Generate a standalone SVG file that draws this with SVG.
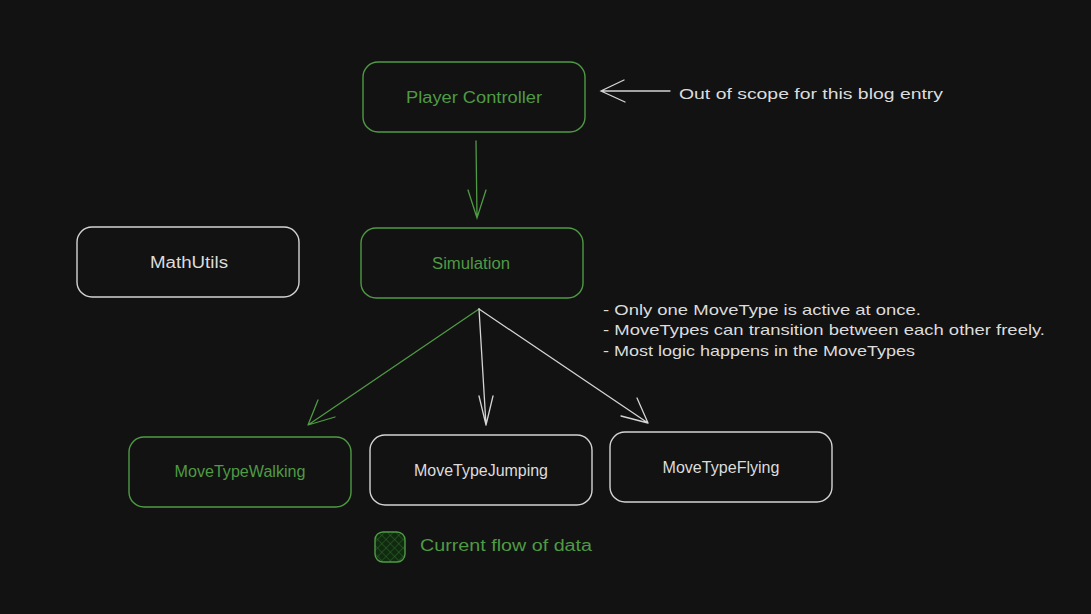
<svg xmlns="http://www.w3.org/2000/svg" width="1091" height="614" viewBox="0 0 1091 614">
<defs>
<style>
.bg{fill:#121212}
.box{fill:none;stroke-width:1.4}
.g{stroke:#4f9a44}
.w{stroke:#d4d4d4}
.t{font-family:"Liberation Sans","DejaVu Sans",sans-serif;font-size:16px;text-anchor:middle;dominant-baseline:central}
.tg{fill:#4f9a44}
.tw{fill:#dcdcdc}
.n{font-family:"Liberation Sans","DejaVu Sans",sans-serif;font-size:15px;fill:#dcdcdc}
.ln{fill:none;stroke-width:1.3;stroke-linecap:round}
</style>
<pattern id="hatch" width="6" height="6" patternUnits="userSpaceOnUse" patternTransform="rotate(45)">
<rect width="6" height="6" fill="#0f2a0f"/>
<line x1="0" y1="0" x2="0" y2="6" stroke="#2f6a2a" stroke-width="1"/>
<line x1="0" y1="0" x2="6" y2="0" stroke="#2f6a2a" stroke-width="1"/>
</pattern>
</defs>
<rect class="bg" width="1091" height="614"/>

<g id="player-controller">
<rect class="box g" x="363" y="62" width="222" height="70" rx="15"/>
<text class="t tg" x="474" y="97" textLength="136" lengthAdjust="spacingAndGlyphs">Player Controller</text>
</g>
<g id="simulation">
<rect class="box g" x="361" y="228" width="222" height="70" rx="15"/>
<text class="t tg" x="471" y="263" textLength="78" lengthAdjust="spacingAndGlyphs">Simulation</text>
</g>
<g id="mathutils">
<rect class="box w" x="77" y="227" width="222" height="70" rx="15"/>
<text class="t tw" x="189" y="262" textLength="78" lengthAdjust="spacingAndGlyphs">MathUtils</text>
</g>
<g id="movetypewalking">
<rect class="box g" x="129" y="437" width="222" height="70" rx="15"/>
<text class="t tg" x="240" y="471" textLength="131" lengthAdjust="spacingAndGlyphs">MoveTypeWalking</text>
</g>
<g id="movetypejumping">
<rect class="box w" x="370" y="435" width="222" height="70" rx="15"/>
<text class="t tw" x="481" y="470" textLength="134" lengthAdjust="spacingAndGlyphs">MoveTypeJumping</text>
</g>
<g id="movetypeflying">
<rect class="box w" x="610" y="432" width="222" height="70" rx="15"/>
<text class="t tw" x="721" y="467" textLength="117" lengthAdjust="spacingAndGlyphs">MoveTypeFlying</text>
</g>

<g id="connectors">
<path class="ln g" d="M476 141 L477 218 M468 190 L477 218 L486 190"/>
<path class="ln w" d="M670 91 L601 91 M624 80 L601 91 L625 102"/>
<path class="ln g" d="M479 309 L308 425 M318 400 L308 425 M335 417 L308 425"/>
<path class="ln w" d="M479 309 L486 425 M479 396 L486 425 M493 396 L486 425"/>
<path class="ln w" d="M479 309 L648 423 M637 398 L648 423 M621 416 L648 423"/>
</g>

<g id="annotations">
<text class="n" x="679" y="99" font-size="16" textLength="264" lengthAdjust="spacingAndGlyphs">Out of scope for this blog entry</text>
<text class="n" x="603" y="315" textLength="318" lengthAdjust="spacingAndGlyphs">- Only one MoveType is active at once.</text>
<text class="n" x="603" y="335" textLength="442" lengthAdjust="spacingAndGlyphs">- MoveTypes can transition between each other freely.</text>
<text class="n" x="603" y="356" textLength="312" lengthAdjust="spacingAndGlyphs">- Most logic happens in the MoveTypes</text>
</g>

<g id="legend">
<rect x="375" y="532" width="30" height="30" rx="8" fill="url(#hatch)" stroke="#4f9a44" stroke-width="1.4"/>
<text class="t tg" x="506" y="545" textLength="172" lengthAdjust="spacingAndGlyphs">Current flow of data</text>
</g>
</svg>
